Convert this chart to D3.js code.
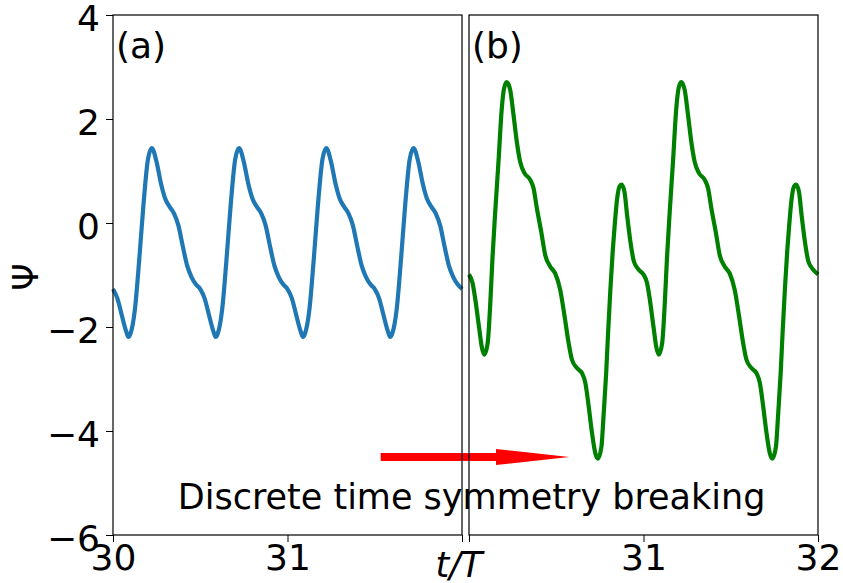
<!DOCTYPE html>
<html>
<head>
<meta charset="utf-8">
<script src="https://cdn.jsdelivr.net/npm/d3@7"></script>
<style>
  html, body { margin: 0; padding: 0; background: #fff; }
  svg { display: block; font-family: "DejaVu Sans", sans-serif; }
</style>
</head>
<body>
<script>

// panel (a): one value every 0.025 T plus the extrema
let tA = [
    30.000, 30.025, 30.050, 30.075, 30.088, 30.100, 30.125, 30.150, 30.175, 30.200, 30.222, 30.250, 30.275, 30.300, 30.325, 30.350, 30.375, 30.400, 30.425, 30.450, 30.475,
    30.500, 30.525, 30.550, 30.575, 30.588, 30.600, 30.625, 30.650, 30.675, 30.700, 30.722, 30.750, 30.775, 30.800, 30.825, 30.850, 30.875, 30.900, 30.925, 30.950, 30.975,
    31.000, 31.025, 31.050, 31.075, 31.088, 31.100, 31.125, 31.150, 31.175, 31.200, 31.222, 31.250, 31.275, 31.300, 31.325, 31.350, 31.375, 31.400, 31.425, 31.450, 31.475,
    31.500, 31.525, 31.550, 31.575, 31.588, 31.600, 31.625, 31.650, 31.675, 31.700, 31.722, 31.750, 31.775, 31.800, 31.825, 31.850, 31.875, 31.900, 31.925, 31.950, 31.975,
    32.000
];
let psiA = [
    -1.27, -1.45, -1.77, -2.08, -2.19, -2.13, -1.68, -0.72, 0.37, 1.22, 1.44, 1.17, 0.76, 0.46, 0.31, 0.18, -0.05, -0.45, -0.82, -1.04, -1.18,
    -1.27, -1.45, -1.77, -2.08, -2.19, -2.13, -1.68, -0.72, 0.37, 1.22, 1.44, 1.17, 0.76, 0.46, 0.31, 0.18, -0.05, -0.45, -0.82, -1.04, -1.18,
    -1.27, -1.45, -1.77, -2.08, -2.19, -2.13, -1.68, -0.72, 0.37, 1.22, 1.44, 1.17, 0.76, 0.46, 0.31, 0.18, -0.05, -0.45, -0.82, -1.04, -1.18,
    -1.27, -1.45, -1.77, -2.08, -2.19, -2.13, -1.68, -0.72, 0.37, 1.22, 1.44, 1.17, 0.76, 0.46, 0.31, 0.18, -0.05, -0.45, -0.82, -1.04, -1.18,
    -1.27
];

// panel (b): period doubled
let tB = [
    30.000, 30.020, 30.034, 30.057, 30.073, 30.088, 30.107, 30.121, 30.134, 30.149, 30.169, 30.188, 30.201, 30.216, 30.236, 30.255, 30.274, 30.293, 30.318, 30.351,
    30.370, 30.389, 30.414, 30.437, 30.466, 30.494, 30.523, 30.548, 30.571, 30.590, 30.619, 30.648, 30.667, 30.686, 30.705, 30.724, 30.739, 30.759, 30.772, 30.786,
    30.797, 30.810, 30.824, 30.835, 30.849, 30.862, 30.874, 30.891, 30.906, 30.925, 30.945, 30.973,
    31.000, 31.020, 31.034, 31.057, 31.073, 31.088, 31.107, 31.121, 31.134, 31.149, 31.169, 31.188, 31.201, 31.216, 31.236, 31.255, 31.274, 31.293, 31.318, 31.351,
    31.370, 31.389, 31.414, 31.437, 31.466, 31.494, 31.523, 31.548, 31.571, 31.590, 31.619, 31.648, 31.667, 31.686, 31.705, 31.724, 31.739, 31.759, 31.772, 31.786,
    31.797, 31.810, 31.824, 31.835, 31.849, 31.862, 31.874, 31.891, 31.906, 31.925, 31.945, 31.973,
    32.000
];
let psiB = [
    -0.99, -1.15, -1.42, -1.99, -2.38, -2.53, -2.31, -1.61, -0.71, 0.15, 1.18, 2.21, 2.59, 2.71, 2.56, 2.08, 1.56, 1.18, 0.96, 0.83,
    0.67, 0.28, -0.17, -0.62, -0.84, -0.97, -1.29, -1.80, -2.31, -2.63, -2.79, -2.89, -3.08, -3.53, -4.04, -4.43, -4.53, -4.30, -3.66, -2.89,
    -2.12, -1.29, -0.52, -0.04, 0.47, 0.70, 0.74, 0.60, 0.15, -0.36, -0.74, -0.90,
    -0.99, -1.15, -1.42, -1.99, -2.38, -2.53, -2.31, -1.61, -0.71, 0.15, 1.18, 2.21, 2.59, 2.71, 2.56, 2.08, 1.56, 1.18, 0.96, 0.83,
    0.67, 0.28, -0.17, -0.62, -0.84, -0.97, -1.29, -1.80, -2.31, -2.63, -2.79, -2.89, -3.08, -3.53, -4.04, -4.43, -4.53, -4.30, -3.66, -2.89,
    -2.12, -1.29, -0.52, -0.04, 0.47, 0.70, 0.74, 0.60, 0.15, -0.36, -0.74, -0.90,
    -0.99
];

let yTicks = [4, 2, 0, -2, -4, -6];
let xTicksA = [30, 31, 32];
let xTicksB = [30, 31, 32];
let xLabelsA = {30: "30", 31: "31", 32: ""};
let xLabelsB = {30: "", 31: "31", 32: "32"};

let width = 843, height = 583;

let svg = d3.select("body").append("svg")
    .attr("width", width)
    .attr("height", height);

let y = d3.scaleLinear().domain([-6, 4]).range([535, 15]);
let xA = d3.scaleLinear().domain([30, 32]).range([113, 462]);
let xB = d3.scaleLinear().domain([30, 32]).range([469, 818]);

let fmt = (d) => d < 0 ? "\u2212" + Math.abs(d) : String(d);

// arrow goes under the frames
let arrow = {x0: 31.534, x1: 32.615, head: 32.195, y: -4.5};
let ay = y(arrow.y);
svg.append("path")
    .attr("d", `M${xA(arrow.x0)},${ay - 4} L${xA(arrow.head)},${ay - 4} L${xA(arrow.head)},${ay - 8}
                L${xA(arrow.x1)},${ay} L${xA(arrow.head)},${ay + 8} L${xA(arrow.head)},${ay + 4}
                L${xA(arrow.x0)},${ay + 4} Z`)
    .attr("fill", "#ff0000");

function panel(x, ts, vals, colour, ticks, labels, showY, tag) {

    let line = d3.line()
        .x((d, i) => x(ts[i]))
        .y((d) => y(d))
        .curve(d3.curveMonotoneX);

    svg.append("path")
        .datum(vals)
        .attr("d", line)
        .attr("fill", "none")
        .attr("stroke", colour)
        .attr("stroke-width", 4.2)
        .attr("stroke-linejoin", "round");

    let xAxis = svg.append("g")
        .attr("transform", `translate(0,${y(-6)})`)
        .call(d3.axisBottom(x).tickValues(ticks).tickSize(7).tickSizeOuter(0).tickPadding(3)
            .tickFormat((d) => labels[d]));
    xAxis.select(".domain").remove();
    xAxis.selectAll("text")
        .attr("font-size", 36)
        .attr("font-family", "DejaVu Sans")
        .attr("fill", "#000")
        .attr("dy", null)
        .attr("y", 35);

    if (showY) {
        let yAxis = svg.append("g")
            .attr("transform", `translate(${x.range()[0]},0)`)
            .call(d3.axisLeft(y).tickValues(yTicks).tickSize(7).tickSizeOuter(0).tickPadding(6)
                .tickFormat(fmt));
        yAxis.select(".domain").remove();
        yAxis.selectAll("text")
            .attr("font-size", 36)
            .attr("font-family", "DejaVu Sans")
            .attr("fill", "#000")
            .attr("dy", null)
            .attr("y", 15);
    }

    svg.append("rect")
        .attr("x", x.range()[0])
        .attr("y", y(4))
        .attr("width", x.range()[1] - x.range()[0])
        .attr("height", y(-6) - y(4))
        .attr("fill", "none")
        .attr("stroke", "#000")
        .attr("stroke-width", 1.2);

    svg.append("text")
        .attr("x", x(30.017))
        .attr("y", y(3.18))
        .attr("font-size", 36)
        .text(tag);
}

panel(xA, tA, psiA, "#1f77b4", xTicksA, xLabelsA, true, "(a)");
panel(xB, tB, psiB, "#008000", xTicksB, xLabelsB, false, "(b)");

svg.append("text")
    .attr("x", xA(30.371))
    .attr("y", y(-5.5))
    .attr("font-size", 35)
    .text("Discrete time symmetry breaking");

svg.append("text")
    .attr("x", 459)
    .attr("y", 577)
    .attr("text-anchor", "middle")
    .attr("font-size", 35)
    .attr("font-style", "italic")
    .text("t/T");

svg.append("text")
    .attr("transform", "translate(38,277) rotate(-90)")
    .attr("text-anchor", "middle")
    .attr("font-size", 35)
    .text("\u03a8");

</script>
</body>
</html>
